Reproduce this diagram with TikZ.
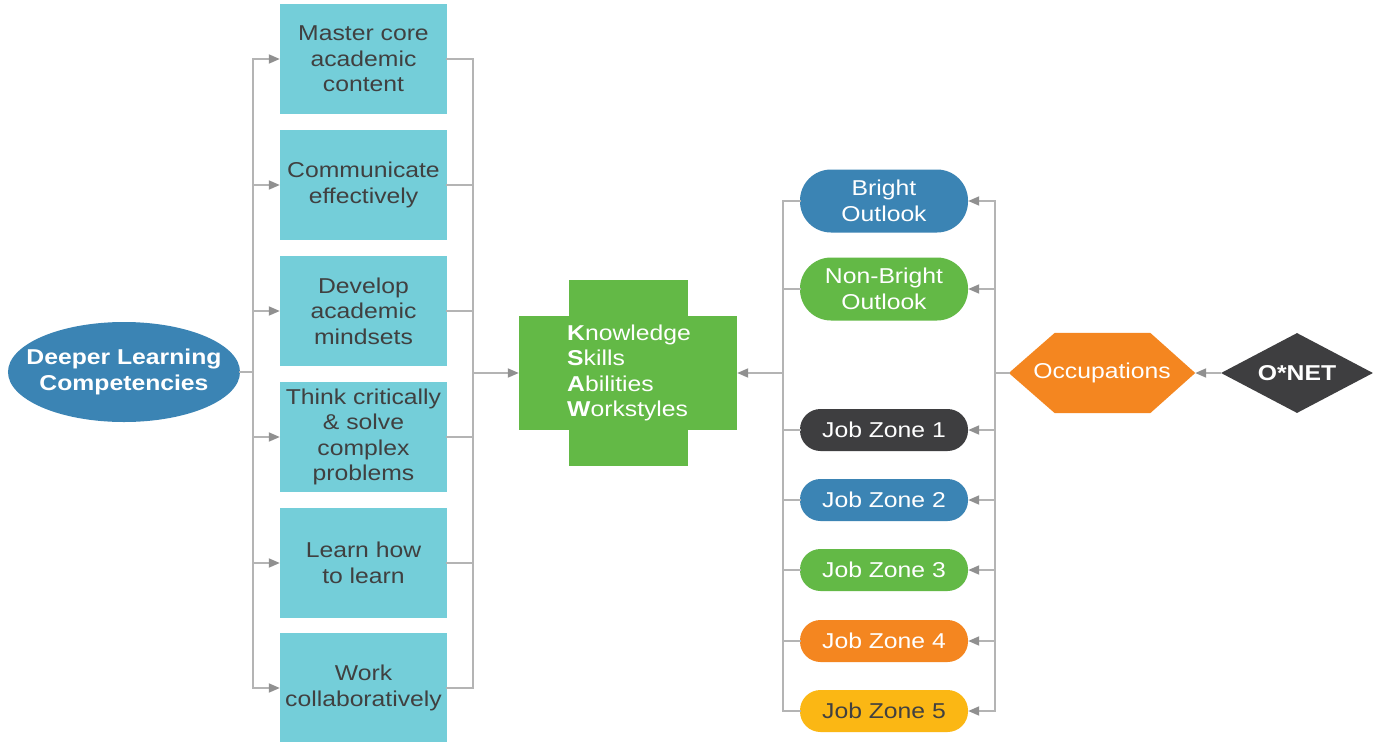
\documentclass[tikz,border=0pt]{standalone}
\usepackage{fontspec}
\setmainfont{Liberation Sans}[FakeStretch=1.15]
\usetikzlibrary{shapes.geometric,arrows.meta,calc}
\definecolor{boxcyan}{HTML}{74CED9}
\definecolor{dlblue}{HTML}{3B84B4}
\definecolor{ksagreen}{HTML}{63B946}
\definecolor{occorange}{HTML}{F48620}
\definecolor{jzyellow}{HTML}{FBB714}
\definecolor{darkfill}{HTML}{3E3E40}
\definecolor{textdark}{HTML}{404040}
\definecolor{linegray}{HTML}{B4B4B4}
\definecolor{tipgray}{HTML}{909090}
\begin{document}
\begin{tikzpicture}[x=1bp,y=-1bp,
  every node/.style={font=\fontsize{21.5bp}{25.5bp}\selectfont, inner sep=0pt},
  boldtext/.style={font=\fontsize{21.5bp}{25.5bp}\selectfont\bfseries},
  compbox/.style={rectangle, fill=boxcyan, minimum width=167bp, minimum height=110bp, text=textdark, align=center},
  pill/.style={rectangle, rounded corners=20.5bp, minimum width=168bp, minimum height=42bp, text=white, align=center},
  bigpill/.style={pill, rounded corners=31bp, minimum height=63bp},
  link/.style={draw=linegray, line width=1.8bp, line cap=rect},
  arrowlink/.style={draw=linegray, line width=1.8bp, -{Triangle[length=11bp,width=9bp,color=tipgray]}},
]
\fill[white] (0,0) rectangle (1373,741);
\clip (0,0) rectangle (1373,741);

% left ellipse
\node[ellipse, fill=dlblue, minimum width=232bp, minimum height=100bp] (dlc) at (124,372) {};
\node[text=white, align=center, boldtext] (dlctext) at (dlc.center) {Deeper Learning\\Competencies};

% competency boxes
\node[compbox] (b1) at (363.5,59) {Master core\\academic\\content};
\node[compbox] (b2) at (363.5,185) {Communicate\\effectively};
\node[compbox] (b3) at (363.5,311) {Develop\\academic\\mindsets};
\node[compbox] (b4) at (363.5,437) {Think critically\\\& solve\\complex\\problems};
\node[compbox] (b5) at (363.5,563) {Learn how\\to learn};
\node[compbox] (b6) at (363.5,688) {Work\\collaboratively};

% cross
\node[fill=ksagreen, minimum width=119bp, minimum height=186bp] (crossv) at (628.5,373) {};
\node[fill=ksagreen, minimum width=218bp, minimum height=114bp] (crossh) at (628,373) {};
\node[anchor=west, text=white, align=left] (ksaw) at (567,373) {\textbf{K}nowledge\\\textbf{S}kills\\\textbf{A}bilities\\\textbf{W}orkstyles};

% pills
\node[bigpill, fill=dlblue] (bo) at (884,201) {Bright\\Outlook};
\node[bigpill, fill=ksagreen] (nbo) at (884,289) {Non-Bright\\Outlook};
\node[pill, fill=darkfill] (jz1) at (884,430) {Job Zone 1};
\node[pill, fill=dlblue] (jz2) at (884,500) {Job Zone 2};
\node[pill, fill=ksagreen] (jz3) at (884,570) {Job Zone 3};
\node[pill, fill=occorange] (jz4) at (884,641) {Job Zone 4};
\node[pill, fill=jzyellow, text=textdark] (jz5) at (884,711) {Job Zone 5};

% occupations hexagon
\node[minimum width=186bp, minimum height=80bp] (occ) at (1102,373) {};
\fill[occorange] (occ.west) -- ($(occ.north west)+(46,0)$) -- ($(occ.north east)+(-45,0)$) -- (occ.east) -- ($(occ.south east)+(-45,0)$) -- ($(occ.south west)+(46,0)$) -- cycle;
\node[text=white] (occtext) at (occ.center) {Occupations};

% O*NET diamond
\node[diamond, aspect=1.9, fill=darkfill, minimum width=152bp, minimum height=80bp, text=white, boldtext] (onet) at (1297,373) {O*NET};

% trunk coordinates
\coordinate (ltx) at (253,372);
\coordinate (rtx) at (473,373);
\coordinate (rlx) at (783,373);
\coordinate (rrx) at (995,373);

% left group connectors
\draw[link] (dlc.east) -- (ltx);
\draw[link] (b1.west -| ltx) -- (b6.west -| ltx);
\foreach \i in {1,...,6} {\draw[arrowlink] (b\i.west -| ltx) -- (b\i.west);}
\foreach \i in {1,...,6} {\draw[link] (b\i.east) -- (b\i.east -| rtx);}
\draw[link] (b1.east -| rtx) -- (b6.east -| rtx);
\draw[arrowlink] (rtx) -- (crossh.west);

% right group connectors
\draw[arrowlink] (rlx) -- (crossh.east);
\draw[link] (bo.west -| rlx) -- (jz5.west -| rlx);
\foreach \n in {bo,nbo,jz1,jz2,jz3,jz4,jz5} {\draw[link] (\n.west) -- (\n.west -| rlx);}
\draw[link] (bo.east -| rrx) -- (jz5.east -| rrx);
\foreach \n in {bo,nbo,jz1,jz2,jz3,jz4,jz5} {\draw[arrowlink] (\n.east -| rrx) -- (\n.east);}
\draw[link] (rrx) -- (occ.west);
\draw[arrowlink] (onet.west) -- (occ.east);
\end{tikzpicture}
\end{document}
